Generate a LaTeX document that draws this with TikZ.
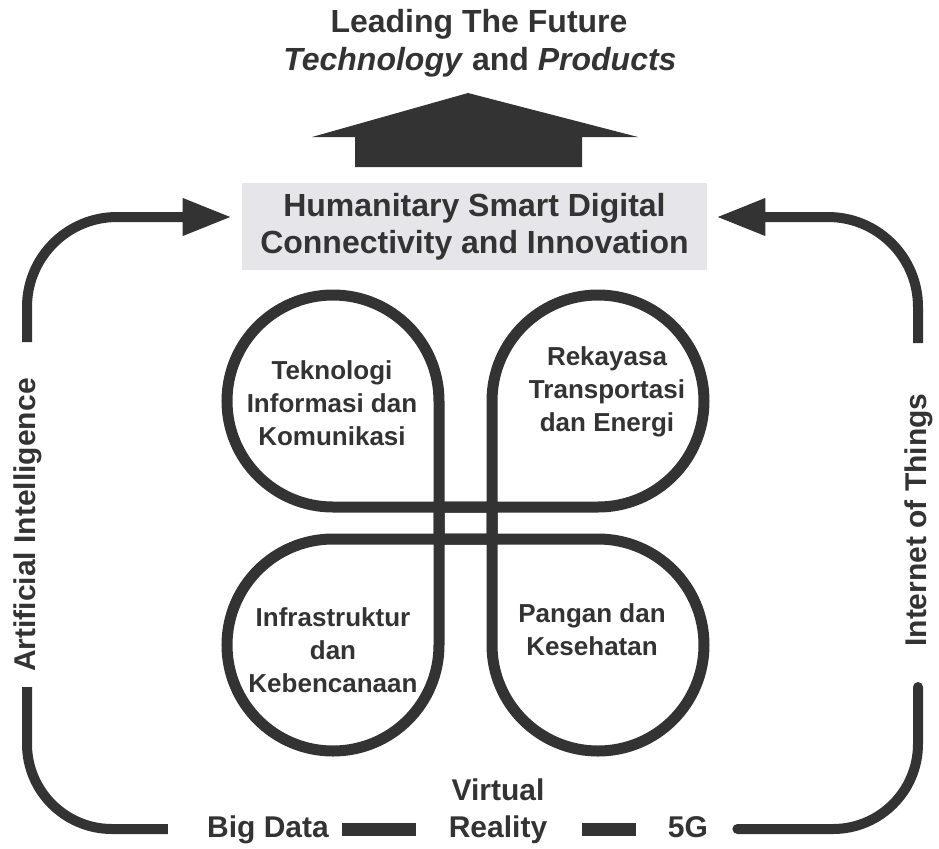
\documentclass[tikz,border=0pt]{standalone}
\usepackage{fontspec}
\setmainfont{Liberation Sans}
\usetikzlibrary{positioning,arrows.meta}
\definecolor{ink}{HTML}{333333}
\definecolor{boxgray}{HTML}{E6E6EA}

\begin{document}
\begin{tikzpicture}[x=0.5pt, y=-0.5pt,
  word/.style = {font=\bfseries\fontsize{15}{18}\selectfont, text=ink, inner sep=0pt, text height=11pt, text depth=3pt},
  head/.style = {font=\bfseries\fontsize{16}{19.5}\selectfont, text=ink},
  topic/.style = {font=\bfseries\fontsize{13}{16.5}\selectfont, text=ink, align=center},
  petal/.style = {draw=ink, line width=5.5pt, rounded corners=53pt},
  flow/.style = {draw=ink, line width=5pt},
  bar/.style = {draw=ink, line width=6.5pt},
  tip/.style = {-{Triangle[length=24.5pt, width=17.5pt]}}]
\useasboundingbox (0,0) rectangle (939,848);

\node[head] (lead) at (479,24) {Leading The Future};
\node[head] (tech) at (480,62) {\textit{Technology} and \textit{Products}};
\fill[ink] (312,137) -- (468,93) -- (638,137) -- (582,137) -- (582,167) -- (355,167) -- (355,137) -- cycle;

\node[fill=boxgray, minimum width=232.5pt, minimum height=43.5pt, align=center, text=ink,
  font=\bfseries\fontsize{16}{18.5}\selectfont] (hub) at (474.5,226.5) {Humanitary Smart Digital\\Connectivity and Innovation};

% petals
\draw[petal] (439,539) -- (439,295) -- (227,295) -- (227,507) -- (492,507);
\draw[petal] (492,539) -- (492,295) -- (704,295) -- (704,507) -- (439,507);
\draw[petal] (439,507) -- (439,751) -- (227,751) -- (227,539) -- (492,539);
\draw[petal] (492,507) -- (492,751) -- (704,751) -- (704,539) -- (439,539);
\node[topic] (tik) at (332,403) {Teknologi\\Informasi dan\\Komunikasi};
\node[topic] (rte) at (607,392) {Rekayasa\\Transportasi\\dan Energi};
\node[topic] (ifk) at (333,650) {Infrastruktur\\dan\\Kebencanaan};
\node[topic] (pks) at (592,630) {Pangan dan\\Kesehatan};

% ring
\node[word, rotate=90] (ai) at (27,525) {Artificial Intelligence};
\node[word, rotate=90] (iot) at (918,520) {Internet of Things};
\node[word] (bigdata) at (268,829) {Big Data};
\node[word] (reality) at (498,829) {Reality};
\node[word, above=4pt of reality] (virtual) {Virtual};
\node[word] (fiveg) at (688,829) {5G};
\coordinate (ai top) at (27,342);
\coordinate (ai low) at (27,687);
\coordinate (iot top) at (918,343);
\coordinate (iot low) at (918,687);

\draw[flow, tip, rounded corners=45pt, shorten >=5pt] (ai top) |- ([yshift=4.75pt]hub.west);
\draw[flow, tip, rounded corners=45pt, shorten >=4.5pt] (iot top) |- ([yshift=4.75pt]hub.east);
\draw[flow, rounded corners=42.5pt, shorten >=19.5pt] (ai low) |- (bigdata.west);
\draw[flow, rounded corners=42.5pt, line cap=round, shorten >=14.5pt] (iot low) |- (fiveg.east);
\draw[bar, shorten <=6.5pt, shorten >=16pt] (bigdata) -- (reality);
\draw[bar, shorten <=17pt, shorten >=16pt] (reality) -- (fiveg);
\end{tikzpicture}
\end{document}
